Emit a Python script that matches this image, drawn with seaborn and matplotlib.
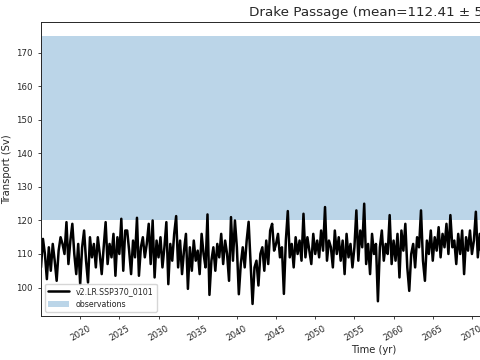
import matplotlib

matplotlib.use("Agg")
import matplotlib.pyplot as plt
import numpy as np
import pandas as pd
import seaborn as sns

# quarterly transport values (Sv), 2015.0 .. 2071.75
transport = [
    106, 114.5, 110, 102.5,
    112, 105, 113, 108,
    102, 111, 115, 113,
    110, 119.5, 107, 114,
    119, 110, 104, 113,
    101, 112, 117, 108,
    101.5, 115, 109, 113,
    106, 115, 110, 104,
    112, 119.5, 107, 113,
    109, 116, 103.5, 115,
    110, 120.5, 105, 117,
    117, 111, 104, 114,
    109, 120.8, 103.5, 112,
    115, 109, 113, 119,
    107, 120, 103, 114,
    109, 115, 106, 112,
    119.5, 101, 113, 108,
    116, 121.3, 106, 114,
    104, 111, 116, 99.6,
    112, 105, 114, 108,
    111, 104, 116, 110,
    106, 121.8, 97.8, 108,
    112, 105, 113, 109,
    116, 107, 114, 110,
    102, 121, 108, 120,
    112, 98, 107, 112,
    106, 114, 119.6, 107,
    95.1, 106, 108, 100.6,
    110, 112, 105, 114,
    107, 117, 119, 111,
    113, 116, 109, 112,
    98.1, 114, 122.8, 109,
    113, 106, 115, 110,
    114, 108, 122, 109,
    115, 111, 107, 116,
    110, 114, 109, 117,
    111, 124, 108, 114,
    112, 106, 117, 110,
    115, 108, 114, 104,
    116, 109, 113, 106,
    112, 123, 108, 117,
    112, 125, 107, 113,
    104, 116, 110, 113,
    95.9, 112, 117, 108,
    113, 110, 121.6, 107,
    114, 108, 116, 103,
    117, 111, 119, 106,
    99, 110, 113, 106,
    115, 112, 123, 108,
    102, 114, 110, 117,
    108, 115, 111, 118,
    109, 116, 112, 119,
    110, 121.6, 112, 114,
    107, 116, 110, 117,
    104, 115, 111, 117,
    110, 114, 122.6, 109,
    116, 108, 112, 110,
]
start_year = 2015
obs_low, obs_high = 120, 175
run_name = "v2.LR.SSP370_0101"
title = "Drake Passage (mean=112.41 ± 5.13)"

time = start_year + np.arange(len(transport)) / 4
data = pd.DataFrame({"time": time, "transport": transport})

sns.set_style("ticks")
fig = plt.figure(figsize=(4.8, 3.6), dpi=100)
# the original figure is wider than the saved crop, so the axes run past the right edge
ax = fig.add_axes([0.0854, 0.1222, 1.3875, 0.8167])

sns.lineplot(data=data, x="time", y="transport", color="black", linewidth=1.8, label=run_name, ax=ax)
ax.axhspan(obs_low, obs_high, color="tab:blue", alpha=0.3, linewidth=0, label="observations")

ax.set_xlim(2015, 2100)
ax.set_ylim(91.5, 179.2)
ax.set_xticks(np.arange(2020, 2101, 5))
ax.tick_params(axis="both", labelsize=6.2, length=2.5, width=0.6)
for lbl in ax.get_xticklabels():
    lbl.set_rotation(30)
    lbl.set_ha("center")
ax.set_xlabel("Time (yr)", fontsize=7.2, labelpad=1)
ax.set_ylabel("Transport (Sv)", fontsize=7.2, labelpad=3)
ax.set_title(title, fontsize=9.7, pad=4, x=0.508)
for spine in ax.spines.values():
    spine.set_linewidth(0.7)
ax.legend(loc="lower left", fontsize=5.7, framealpha=0.8, borderpad=0.4, handlelength=2.7)

fig.savefig("out.png", dpi=100)
plt.close(fig)
